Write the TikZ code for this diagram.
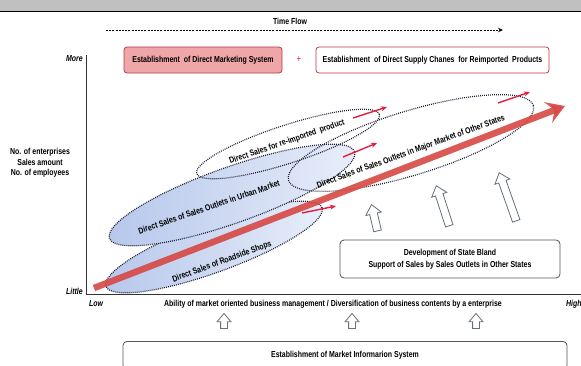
\documentclass[tikz,border=0pt]{standalone}
\usepackage{fontspec}
\setmainfont[FakeStretch=0.8]{Liberation Sans}
\usepackage{tikz}
\usetikzlibrary{shapes,arrows.meta,positioning,calc}

\definecolor{hdrgray}{RGB}{192,192,192}
\definecolor{boxred}{RGB}{196,52,72}
\definecolor{boxpink}{RGB}{238,166,168}
\definecolor{trendred}{RGB}{214,72,68}
\definecolor{arrred}{RGB}{226,30,62}
\definecolor{dotblue}{RGB}{28,28,52}
\definecolor{blueL}{RGB}{182,199,235}
\definecolor{blueR}{RGB}{232,238,250}
\definecolor{hollowgray}{RGB}{100,112,122}
\definecolor{boxgray}{RGB}{80,86,96}

\begin{document}
\begin{tikzpicture}[x=1pt, y=-1pt,
    font=\fontsize{8.7}{10}\selectfont\bfseries,
    topbox/.style={rectangle, rounded corners=3pt, draw=boxred, line width=0.8pt, minimum height=26pt, align=center},
    ring/.style={ellipse, draw=dotblue, line width=1.2pt, dash pattern=on 0.9pt off 1.1pt, inner sep=0pt},
    bluering/.style={ring, left color=blueL, right color=blueR},
    tag/.style={inner sep=0pt},
    edge/.style={tag, font=\fontsize{8.7}{10}\selectfont\bfseries\itshape},
    redarrow/.style={-{Stealth[length=6pt,width=5pt]}, draw=arrred, line width=1.4pt},
    hollow/.style={single arrow, draw=hollowgray, fill=white, line width=0.8pt, inner sep=3.5pt, single arrow head extend=4pt, single arrow tip angle=80},
    infobox/.style={rectangle, rounded corners=4pt, draw=boxgray, line width=0.8pt, align=center}
]
\clip (0,0) rectangle (581,365);

% Header band
\fill[hdrgray] (0,0) rectangle (581,11);
\draw[line width=1.2pt] (0,11.5) -- (581,11.5);

% Time flow
\node[tag] (flow) at (290,21) {Time Flow};
\coordinate (flowS) at (106,30);
\coordinate (flowE) at (503,30);
\draw[-{Stealth[length=5pt,width=4.5pt]}, line width=1pt, dash pattern=on 2pt off 1.2pt] (flowS) -- (flowE);

% Top boxes
\node[topbox, fill=boxpink, minimum width=158pt] (dms) at (203,60) {Establishment \ of Direct Marketing System};
\node[text=arrred, font=\fontsize{10}{10}\selectfont] (plus) at (299,60) {+};
\node[topbox, fill=white, minimum width=233pt] (dsc) at (432.5,60) {Establishment \ of Direct Supply Chanes \ for Reimported \ Products};

% Axes
\coordinate (ytop) at (86,55);
\coordinate (xend) at (582,294);
\draw[line width=1pt, black!80] (ytop) |- (xend);
\node[edge, anchor=east] (more) at (83,59) {More};
\node[edge, anchor=east] (little) at (83,291) {Little};
\node[tag, align=center, font=\fontsize{8.7}{10.5}\selectfont\bfseries] (yname) at (40,163) {No. of enterprises\\Sales amount\\No. of employees};
\node[edge, anchor=west] (low) at (89,304) {Low};
\node[edge, anchor=west] (high) at (566,304) {High};
\node[tag] (xname) at (333,304) {Ability of market oriented business management / Diversification of business contents by a enterprise};

% Sales channels
\node[bluering, minimum width=230pt, minimum height=50pt, rotate=20] (roadside) at (214,247) {};
\node[bluering, minimum width=260pt, minimum height=56pt, rotate=19.5] (urban) at (232,195) {};
\node[ring, minimum width=192pt, minimum height=38pt, rotate=18] (reimp) at (288,144) {};
\node[ring, minimum width=256pt, minimum height=64pt, rotate=17] (major) at (411,143) {};

% Growth trend
\coordinate (trendS) at (94,288);
\coordinate (trendE) at (565,106);
\draw[trendred, opacity=0.9, line width=6.5pt, -{Stealth[length=18pt,width=22pt,inset=7pt]}] (trendS) -- (trendE);

\node[tag, rotate=20] (roadsideT) at (222,262) {Direct Sales of Roadside Shops};
\node[tag, rotate=19] (urbanT) at (209,207) {Direct Sales of Sales Outlets in Urban Market};
\node[tag, rotate=19] (reimpT) at (287,142) {Direct Sales for re-imported \ product};
\node[tag, rotate=20] (majorT) at (411,152) {Direct Sales of Sales Outlets in Major Market of Other States};

% Expansion arrows
\coordinate (exA1) at (353,118); \coordinate (exA2) at (387,107);
\coordinate (exB1) at (343,157); \coordinate (exB2) at (377,143);
\coordinate (exC1) at (498,103); \coordinate (exC2) at (530,92);
\coordinate (exD1) at (302,213); \coordinate (exD2) at (336,206);
\draw[redarrow] (exA1) -- (exA2);
\draw[redarrow] (exB1) -- (exB2);
\draw[redarrow] (exC1) -- (exC2);
\draw[redarrow] (exD1) -- (exD2);

% Support from state
\node[infobox, minimum width=220pt, minimum height=38pt, font=\fontsize{8.7}{12.5}\selectfont\bfseries] (state) at (450,259) {Development of State Bland\\Support of Sales by Sales Outlets in Other States};
\node[hollow, minimum height=27pt, rotate=103] (up1) at (375,220) {};
\node[hollow, minimum height=42pt, rotate=108] (up2) at (443.5,208) {};
\node[hollow, minimum height=51pt, rotate=109.5] (up3) at (508.5,199) {};

% Market information
\node[hollow, minimum height=15pt, inner sep=3pt, single arrow head extend=3.5pt, rotate=90] (mi1) at (224,323) {};
\node[hollow, minimum height=15pt, inner sep=3pt, single arrow head extend=3.5pt, rotate=90] (mi2) at (352,323) {};
\node[hollow, minimum height=15pt, inner sep=3pt, single arrow head extend=3.5pt, rotate=90] (mi3) at (476,323) {};
\node[infobox, minimum width=444pt, inner ysep=10pt, anchor=north] (mis) at (345,341) {Establishment of Market Informarion System};

\end{tikzpicture}
\end{document}
